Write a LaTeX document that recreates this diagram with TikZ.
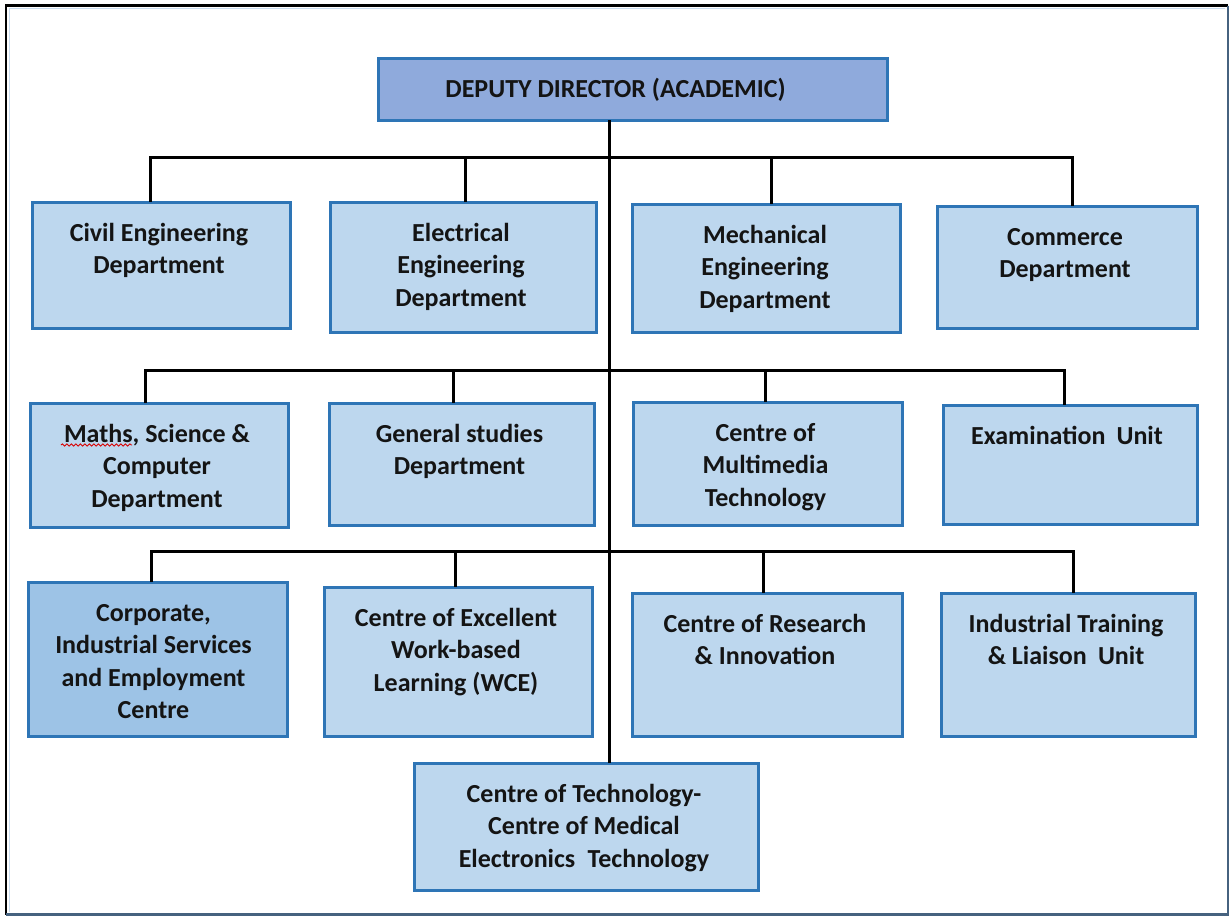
\documentclass[tikz,border=0pt]{standalone}
\usepackage{fontspec}
\setmainfont{Carlito}
\usetikzlibrary{decorations.pathmorphing}
\definecolor{bordblue}{HTML}{2E75B6}
\definecolor{boxfill}{HTML}{BDD7EE}
\definecolor{topfill}{HTML}{8FAADC}
\definecolor{corpfill}{HTML}{9DC3E6}
\definecolor{txtc}{HTML}{141414}
\definecolor{framedark}{HTML}{46627F}
\definecolor{framelight}{HTML}{C9DCEF}
\newcommand\orgbox[8][]{%
  \node[box,#1,anchor=north west,minimum width={#5pt-#3pt},minimum height={#6pt-#4pt}] (#2) at (#3,#4) {};
  \node[lbl] (#2-t) at ([yshift=-19pt,xshift=#8pt]#2.north) {\rule{0pt}{20pt}#7};
}
\begin{document}
\begin{tikzpicture}[x=1pt,y=-1pt,
  box/.style={draw=bordblue,line width=3pt,fill=boxfill,inner sep=0pt,outer sep=0pt},
  lbl/.style={font=\fontsize{26}{32.5}\selectfont\bfseries,align=center,inner sep=0pt,anchor=north,text=txtc},
  conn/.style={line width=3pt,black,line join=miter}]
\useasboundingbox (0,0) rectangle (1229,916);
\fill[white] (0,0) rectangle (1229,916);
% frame
\draw[framelight,line width=1pt] (9,911.5) -- (9,8) -- (1225,8);
\draw[black,line width=2.2pt] (6,914.5) -- (6,5.5) -- (1228,5.5);
\draw[framedark,line width=2.2pt] (1228,5.5) -- (1228,914.5) -- (6,914.5);
% boxes
\orgbox[fill=topfill]{dep}{378}{58}{887}{120}{DEPUTY DIRECTOR (ACADEMIC)}{-17}
\orgbox{civ}{32}{202}{290}{328}{Civil Engineering\\Department}{-2}
\orgbox{ele}{330}{202}{596}{332}{Electrical\\Engineering\\Department}{-2}
\orgbox{mec}{632}{204}{900}{332}{Mechanical\\Engineering\\Department}{-1}
\orgbox{com}{937}{206}{1197}{328}{Commerce\\Department}{-2}
\orgbox{mat}{30}{403}{288}{527}{Maths, Science \&\\Computer\\Department}{-2}
\orgbox{gen}{329}{403}{594}{525}{General studies\\Department}{-2}
\orgbox{mul}{633}{402}{902}{525}{Centre of\\Multimedia\\Technology}{-2}
\orgbox{exa}{943}{405}{1197}{524}{Examination\hspace{0.2em} Unit}{-3}
\orgbox[fill=corpfill]{cor}{28}{582}{287}{736}{Corporate,\\Industrial Services\\and Employment\\Centre}{-4}
\orgbox{wce}{324}{587}{592}{736}{Centre of Excellent\\Work-based\\Learning (WCE)}{-2}
\orgbox{res}{632}{593}{902}{736}{Centre of Research\\\& Innovation}{-2}
\orgbox{ind}{941}{593}{1195}{736}{Industrial Training\\\& Liaison\hspace{0.2em} Unit}{-2}
\orgbox{ctm}{414}{763}{758}{890}{Centre of Technology-\\Centre of Medical\\Electronics\hspace{0.25em} Technology}{-2}
% spell-check squiggle
\draw[red!85!black,line width=0.9pt,decorate,decoration={snake,amplitude=1.1pt,segment length=4.5pt}] (61,445) -- (132,445);
% bus coordinates
\coordinate (r1a) at (150,157);
\coordinate (r1b) at (465,157);
\coordinate (r1c) at (771,157);
\coordinate (r1d) at (1072,157);
\coordinate (r2a) at (145,370);
\coordinate (r2b) at (453,370);
\coordinate (r2c) at (765,370);
\coordinate (r2d) at (1064,370);
\coordinate (r3a) at (151,551);
\coordinate (r3b) at (455,551);
\coordinate (r3c) at (763,551);
\coordinate (r3d) at (1073,551);
% connectors
\draw[conn] (dep.south -| 609,0) -- (ctm.north -| 609,0);
\draw[conn] (r1a |- civ.north) -- (r1a) -- (r1d) -- (r1d |- com.north);
\draw[conn] (r1b) -- (r1b |- ele.north);
\draw[conn] (r1c) -- (r1c |- mec.north);
\draw[conn] (r2a |- mat.north) -- (r2a) -- (r2d) -- (r2d |- exa.north);
\draw[conn] (r2b) -- (r2b |- gen.north);
\draw[conn] (r2c) -- (r2c |- mul.north);
\draw[conn] (r3a |- cor.north) -- (r3a) -- (r3d) -- (r3d |- ind.north);
\draw[conn] (r3b) -- (r3b |- wce.north);
\draw[conn] (r3c) -- (r3c |- res.north);
\end{tikzpicture}
\end{document}
